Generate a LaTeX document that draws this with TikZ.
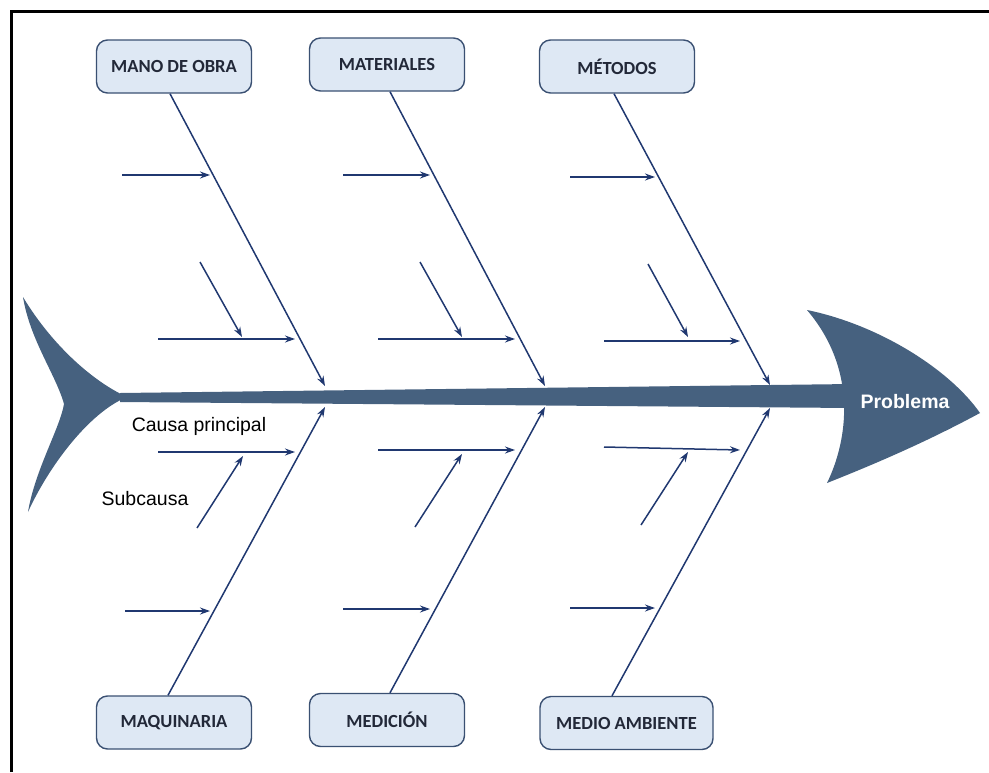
\documentclass[tikz,border=0pt]{standalone}
\usepackage{fontspec}
\setmainfont{Liberation Sans}
\newfontfamily\boxfont{Carlito}
\usetikzlibrary{arrows.meta}
\definecolor{spinec}{RGB}{70,97,127}
\definecolor{arrowc}{RGB}{32,56,112}
\definecolor{boxfill}{RGB}{222,232,244}
\definecolor{boxline}{RGB}{58,80,114}
\definecolor{boxtext}{RGB}{34,40,56}
\begin{document}
\begin{tikzpicture}[x=1pt,y=-1pt,
  catbox/.style={draw=boxline, line width=1.4pt, fill=boxfill, rounded corners=11pt,
    minimum width=155pt, minimum height=53pt, inner sep=0pt, text=boxtext,
    font=\boxfont\bfseries\fontsize{18.5}{20}\selectfont},
  bone/.style={draw=arrowc, line width=1.5pt, -{Stealth[length=10pt,width=7pt]}},
  subarrow/.style={draw=arrowc, line width=1.5pt, -{Stealth[length=10pt,width=7pt]}},
  lbl/.style={inner sep=0pt, text=black, font=\fontsize{19.5}{22}\selectfont}]
\useasboundingbox (0,0) rectangle (989,772);
% frame
\draw[line width=3pt] (11.5,772) -- (11.5,11.5) -- (989,11.5);

% spine
\fill[spinec] (120,393) -- (852,384) -- (852,408) -- (120,402) -- cycle;
% tail
\fill[spinec] (23,297) .. controls (50,342) and (90,380) .. (127,397)
  .. controls (88,413) and (48,468) .. (28,512)
  .. controls (35,470) and (60,428) .. (64,404)
  .. controls (56,375) and (30,340) .. (23,297) -- cycle;
% head
\fill[spinec] (807,310) .. controls (880,325) and (950,370) .. (980,413)
  .. controls (930,440) and (880,462) .. (827,483)
  .. controls (848,440) and (858,370) .. (807,310) -- cycle;
\node[text=white, inner sep=0pt, font=\bfseries\fontsize{19.5}{22}\selectfont] (prob) at (905,402) {Problema};

% category boxes
\node[catbox] (mo)  at (174,66.5)  {MANO DE OBRA};
\node[catbox] (mat) at (387,64.5)  {MATERIALES};
\node[catbox] (met) at (617,66.5)  {MÉTODOS};
\node[catbox] (maq) at (174,722.5) {MAQUINARIA};
\node[catbox] (med) at (387,720)   {MEDICIÓN};
\node[catbox, minimum width=173pt] (ma) at (626.5,723) {MEDIO AMBIENTE};

% bone tips on spine
\coordinate (mo-t)  at (325,386);
\coordinate (mat-t) at (545,386);
\coordinate (met-t) at (770,385);
\coordinate (maq-t) at (325,407);
\coordinate (med-t) at (545,407);
\coordinate (ma-t)  at (770,408);

\draw[bone] ([xshift=-4pt]mo.south) -- (mo-t);
\draw[bone] ([xshift=3pt]mat.south) -- (mat-t);
\draw[bone] ([xshift=-3pt]met.south) -- (met-t);
\draw[bone] ([xshift=-6pt]maq.north) -- (maq-t);
\draw[bone] ([xshift=3pt]med.north) -- (med-t);
\draw[bone] ([xshift=-14.5pt]ma.north) -- (ma-t);

% sub-causes: start/end coordinates
\foreach \n/\ax/\ay/\bx/\by in {
  moA/122/175/210/175, moB/158/339/295/339, moC/200/262/242/337,
  matA/343/175/430/175, matB/378/339/515/339, matC/420/262/462/337,
  metA/570/177/655/177, metB/604/341/740/341, metC/648/264/688/337,
  maqA/158/452/295/452, maqB/197/528/243/456, maqC/125/611/210/611,
  medA/378/450/515/450, medB/415/527/462/454, medC/343/609/430/609,
  maA/604/447/740/450, maB/641/525/688/452, maC/570/608/655/608}{
  \coordinate (\n-s) at (\ax,\ay);
  \coordinate (\n-e) at (\bx,\by);
  \draw[subarrow] (\n-s) -- (\n-e);
}

% labels
\node[lbl] (cp) at (199,426) {Causa principal};
\node[lbl] (sc) at (145,499) {Subcausa};
\end{tikzpicture}
\end{document}
